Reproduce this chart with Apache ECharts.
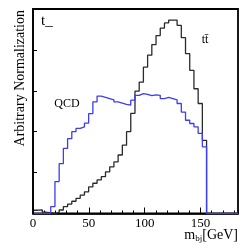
<!DOCTYPE html>
<html>
<head>
<meta charset="utf-8">
<script src="https://cdn.jsdelivr.net/npm/echarts@6/dist/echarts.min.js"></script>
<style>
html,body{margin:0;padding:0;background:#fff;}
#c{width:248px;height:250px;}
</style>
</head>
<body>
<div id="c"></div>
<script>
// Histogram definition
var binStart = 0.8;
var binWidth = 3.77;
var xTickLabels = ['0', '50', '100', '150'];
// Bin contents (arbitrary normalization), bins 0..40
var ttbarValues = [0.08, 0.09, 0.03, 0.02, 0.00, 0.03, 0.085, 0.17, 0.23, 0.30,
  0.37, 0.45, 0.53, 0.65, 0.74, 0.82, 0.90, 1.02, 1.14, 1.26,
  1.43, 1.67, 2.00, 2.45, 2.99, 3.21, 3.58, 3.87, 4.13, 4.35,
  4.53, 4.66, 4.73, 4.73, 4.60, 4.30, 3.91, 3.50, 3.05, 2.69, 1.79];
var qcdValues = [0, 0, 0, 0, 0.17, 0.78, 1.22, 1.59, 1.83, 2.00,
  2.08, 2.12, 2.21, 2.44, 2.73, 2.87, 2.84, 2.81, 2.78, 2.73,
  2.70, 2.67, 2.65, 2.77, 2.89, 2.93, 2.91, 2.88, 2.90, 2.89,
  2.81, 2.84, 2.81, 2.78, 2.69, 2.48, 2.28, 2.20, 2.12, 1.96, 1.63];
var xMax = 183.5;

function stepData(vals) {
  var d = [];
  for (var i = 0; i < vals.length; i++) d.push([binStart + i * binWidth, vals[i]]);
  d.push([binStart + vals.length * binWidth, 0]);
  d.push([xMax, 0]);
  return d;
}

var serif = 'Liberation Serif';
var chart = echarts.init(document.getElementById('c'));
chart.setOption({
  animation: false,
  grid: {left: 33, right: 10, top: 9, bottom: 36.5, show: true, borderColor: '#000', borderWidth: 1.8, backgroundColor: 'transparent'},
  xAxis: [
    {type: 'value', min: 0, max: xMax, interval: 10, position: 'bottom',
     axisLine: {show: true, lineStyle: {color: '#000', width: 1.5}},
     axisTick: {show: true, inside: true, length: 3, lineStyle: {color: '#000', width: 1}},
     axisLabel: {show: false}, splitLine: {show: false}},
    {type: 'value', min: 0, max: xMax, interval: 50, position: 'bottom',
     axisLine: {show: false},
     axisTick: {show: true, inside: true, length: 6, lineStyle: {color: '#000', width: 1}},
     axisLabel: {show: true, color: '#000', fontFamily: serif, fontSize: 13, margin: 4, showMaxLabel: false,
       formatter: function (v) { var s = String(v); return xTickLabels.indexOf(s) >= 0 ? s : ''; }},
     splitLine: {show: false}}
  ],
  yAxis: {type: 'value', min: 0, max: 5, interval: 1,
    axisLine: {show: true, lineStyle: {color: '#000', width: 1.5}},
    axisTick: {show: true, inside: true, length: 4, lineStyle: {color: '#000', width: 1}},
    axisLabel: {show: false}, splitLine: {show: false}},
  series: [
    {type: 'line', name: 'tt', xAxisIndex: 0, step: 'end', symbol: 'none', data: stepData(ttbarValues),
     lineStyle: {color: '#2a2a2a', width: 1.3}},
    {type: 'line', name: 'QCD', xAxisIndex: 0, step: 'end', symbol: 'none', data: stepData(qcdValues),
     lineStyle: {color: '#3c3cf0', width: 1.3}}
  ],
  graphic: [
    {type: 'text', x: 20, y: 10, rotation: Math.PI / 2,
     style: {text: 'Arbitrary Normalization', fontFamily: serif, fontSize: 14, fill: '#000', textAlign: 'right', textVerticalAlign: 'middle'}},
    {type: 'text', x: 41, y: 21,
     style: {text: 't_', fontFamily: serif, fontSize: 15, fill: '#000', textAlign: 'left', textVerticalAlign: 'middle'}},
    {type: 'text', x: 205, y: 40,
     style: {text: 'tt\u0304', fontFamily: serif, fontSize: 12, fill: '#000', textAlign: 'center', textVerticalAlign: 'middle'}},
    {type: 'text', x: 67, y: 104,
     style: {text: 'QCD', fontFamily: serif, fontSize: 12, fill: '#000', textAlign: 'center', textVerticalAlign: 'middle'}},
    {type: 'text', x: 238, y: 235,
     style: {text: '{m|m}{s|bj}{m|[GeV]}', textAlign: 'right', textVerticalAlign: 'middle',
       rich: {m: {fontFamily: serif, fontSize: 14, fill: '#000', color: '#000'},
              s: {fontFamily: serif, fontSize: 9, fill: '#000', color: '#000', padding: [8, 0, 0, 0]}}}}
  ]
});
</script>
</body>
</html>
